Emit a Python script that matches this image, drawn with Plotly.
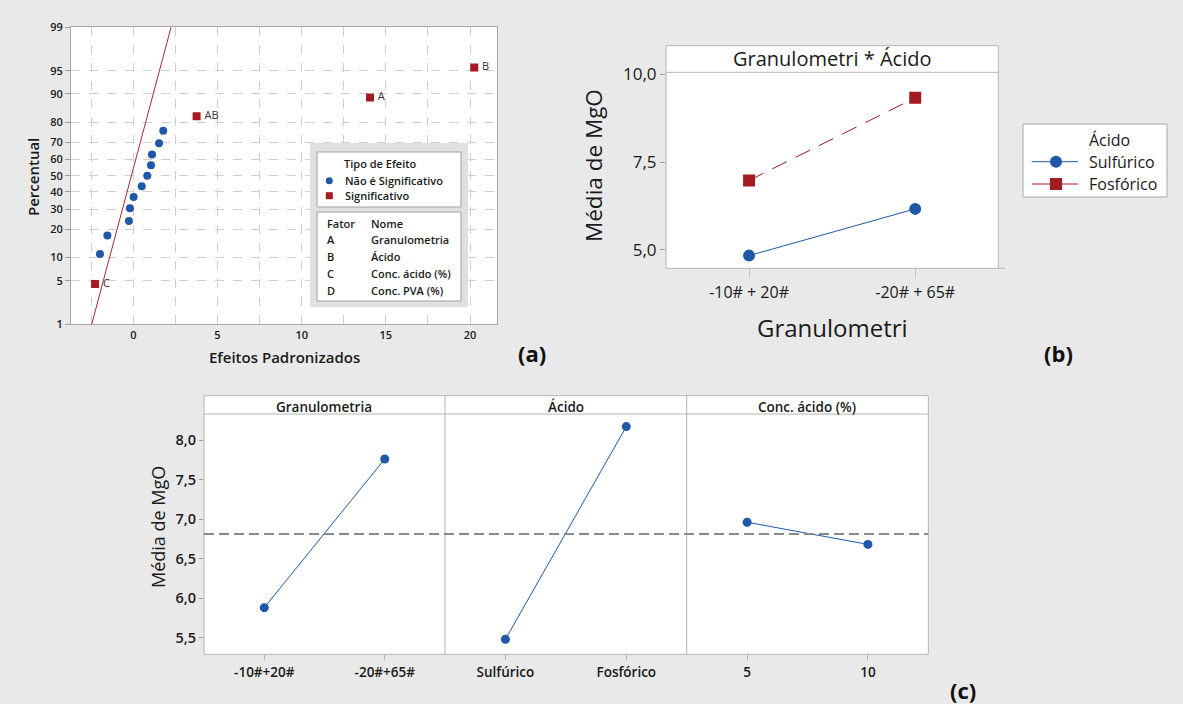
import plotly.graph_objects as go
from statistics import NormalDist

W, H = 1183, 704
FONT = "Open Sans"
INK = "#1a1a1a"
BLUE = "#1f58a8"
RED = "#a31a20"
FRAME = "#b4b4b4"
PAPER = "#e9e9e9"


def fx(p):
    return p / W


def fy(p):
    return 1 - p / H


def probit(pct):
    return NormalDist().inv_cdf(pct / 100.0)


# ---------------- (a) normal plot of standardized effects ----------------
effect_x = [-2.27, -1.98, -1.54, -0.26, -0.20, 0.02, 0.50, 0.83, 1.05, 1.11, 1.53, 1.78, 3.76, 14.06, 20.25]
effect_pct = [4.5, 11.0, 17.5, 24.0, 30.5, 37.0, 43.5, 50.0, 56.5, 63.0, 69.5, 76.0, 82.5, 89.0, 95.5]
effect_tag = ["C", "", "", "", "", "", "", "", "", "", "", "", "AB", "A", "B"]
significant = [True] + [False] * 11 + [True, True, True]
fit_x = [-2.47, 2.24]
fit_pct = [1, 99]
pct_ticks = [1, 5, 10, 20, 30, 40, 50, 60, 70, 80, 90, 95, 99]
x_ticks_a = [-2.5, 0, 2.5, 5, 7.5, 10, 12.5, 15, 17.5, 20]
factor_codes = ["A", "B", "C", "D"]
factor_names = ["Granulometria", "Ácido", "Conc. ácido (%)", "Conc. PVA (%)"]

# ---------------- (b) interaction plot ----------------
gran_levels_b = ["-10# + 20#", "-20# + 65#"]
mean_sulf = [4.84, 6.17]
mean_fosf = [6.98, 9.33]
y_ticks_b = [5.0, 7.5, 10.0]

# ---------------- (c) main effects plot ----------------
gran_levels = ["-10#+20#", "-20#+65#"]
mean_gran = [5.88, 7.76]
acid_levels = ["Sulfúrico", "Fosfórico"]
mean_acid = [5.48, 8.17]
conc_levels = ["5", "10"]
mean_conc = [6.96, 6.68]
grand_mean = 6.81
y_ticks_c = [5.5, 6.0, 6.5, 7.0, 7.5, 8.0]

fig = go.Figure()

# (a) traces
nx = [x for x, s in zip(effect_x, significant) if not s]
ny = [probit(p) for p, s in zip(effect_pct, significant) if not s]
sx = [x for x, s in zip(effect_x, significant) if s]
sy = [probit(p) for p, s in zip(effect_pct, significant) if s]
st = [t for t, s in zip(effect_tag, significant) if s]

fig.add_trace(go.Scatter(x=fit_x, y=[probit(p) for p in fit_pct], mode="lines",
                         line=dict(color="#a52a2a", width=1), xaxis="x", yaxis="y",
                         showlegend=False, hoverinfo="skip"))
fig.add_trace(go.Scatter(x=nx, y=ny, mode="markers", xaxis="x", yaxis="y",
                         marker=dict(symbol="circle", size=8, color=BLUE),
                         showlegend=False))
fig.add_trace(go.Scatter(x=sx, y=sy, mode="markers+text", text=["\u2009" + t for t in st],
                         textposition="middle right",
                         textfont=dict(family=FONT, size=11, color="#333"),
                         xaxis="x", yaxis="y",
                         marker=dict(symbol="square", size=8, color=RED),
                         showlegend=False))

# (b) traces
fig.add_trace(go.Scatter(x=gran_levels_b, y=mean_sulf, mode="lines+markers", xaxis="x2", yaxis="y2",
                         line=dict(color=BLUE, width=1),
                         marker=dict(symbol="circle", size=12, color=BLUE), showlegend=False))
fig.add_trace(go.Scatter(x=gran_levels_b, y=mean_fosf, mode="lines+markers", xaxis="x2", yaxis="y2",
                         line=dict(color=RED, width=1, dash="16px,10px"),
                         marker=dict(symbol="square", size=12, color=RED), showlegend=False))

# (c) traces
for xa, cats, vals in (("x3", gran_levels, mean_gran),
                       ("x4", acid_levels, mean_acid),
                       ("x5", conc_levels, mean_conc)):
    fig.add_trace(go.Scatter(x=cats, y=vals, mode="lines+markers", xaxis=xa, yaxis="y3",
                             line=dict(color=BLUE, width=1),
                             marker=dict(symbol="circle", size=9, color=BLUE), showlegend=False))

grid_kw = dict(showgrid=True, gridcolor="#cfcfcf", griddash="dash", gridwidth=1, zeroline=False)
SEMI = dict(family=FONT, color=INK, weight=600)

layout = dict(
    width=W, height=H, margin=dict(l=0, r=0, t=0, b=0, autoexpand=False),
    paper_bgcolor=PAPER, plot_bgcolor="white", separators=",.",
    font=dict(family=FONT, color=INK),
    xaxis=dict(domain=[fx(71), fx(497)], range=[-3.70, 21.60], anchor="y", automargin=False,
               tickvals=x_ticks_a,
               ticktext=["" if v % 5 else f"{v:g}" for v in x_ticks_a],
               showline=True, linecolor="#a8a8a8", mirror=True, ticks="",
               tickfont=dict(size=11, **SEMI), **grid_kw),
    yaxis=dict(domain=[fy(324.3), fy(27.3)], range=[probit(1), probit(99)], anchor="x",
               automargin=False,
               tickvals=[probit(p) for p in pct_ticks], ticktext=[str(p) for p in pct_ticks],
               showline=True, linecolor="#a8a8a8", mirror=True,
               ticks="outside", ticklen=5, tickcolor="#9a9a9a",
               tickfont=dict(size=11, **SEMI), **grid_kw),
    xaxis2=dict(domain=[fx(666), fx(998.3)], anchor="y2", type="category", range=[-0.5, 1.5],
                automargin=False,
                showgrid=False, zeroline=False, showline=False,
                ticks="outside", ticklen=9, tickcolor="#c4c4c4",
                tickfont=dict(size=16, color=INK)),
    yaxis2=dict(domain=[fy(268.3), fy(72.3)], anchor="x2", range=[4.479, 10.057],
                automargin=False,
                tickvals=y_ticks_b, tickformat=".1f", showgrid=False, zeroline=False,
                showline=False, ticks="outside", ticklen=5, tickcolor="#9a9a9a",
                tickfont=dict(size=17, color=INK)),
    yaxis3=dict(domain=[fy(654.3), fy(414)], anchor="x3", range=[5.290, 8.329],
                automargin=False,
                tickvals=y_ticks_c, tickformat=".1f", showgrid=False, zeroline=False,
                showline=False, ticks="outside", ticklen=4, tickcolor="#9a9a9a",
                tickfont=dict(size=14.5, **SEMI)),
)
for name, dom in (("xaxis3", (204, 445)), ("xaxis4", (445, 686.7)), ("xaxis5", (686.7, 928.3))):
    layout[name] = dict(domain=[fx(dom[0]), fx(dom[1])], anchor="y3", type="category",
                        range=[-0.5, 1.5], showgrid=False, zeroline=False, showline=False,
                        automargin=False,
                        ticks="outside", ticklen=5, tickcolor="#b0b0b0",
                        tickfont=dict(size=13.5, **SEMI))
fig.update_layout(**layout)

shapes = []
ann = []


def rect(x0, y0, x1, y1, fill=None, line=FRAME, width=1, layer="above"):
    shapes.append(dict(type="rect", xref="paper", yref="paper",
                       x0=fx(x0), x1=fx(x1), y0=fy(y1), y1=fy(y0),
                       fillcolor=fill if fill else "rgba(0,0,0,0)",
                       line=dict(color=line, width=width) if line else dict(width=0),
                       layer=layer))


def hline(x0, x1, y, color=FRAME, width=1, dash="solid"):
    shapes.append(dict(type="line", xref="paper", yref="paper", x0=fx(x0), x1=fx(x1),
                       y0=fy(y), y1=fy(y), line=dict(color=color, width=width, dash=dash)))


def vline(x, y0, y1, color=FRAME, width=1):
    shapes.append(dict(type="line", xref="paper", yref="paper", x0=fx(x), x1=fx(x),
                       y0=fy(y0), y1=fy(y1), line=dict(color=color, width=width)))


def text(x, y, s, size, anchor="center", angle=0, weight=400, color=INK):
    ann.append(dict(xref="paper", yref="paper", x=fx(x), y=fy(y), text=s,
                    showarrow=False, xanchor=anchor, yanchor="middle", textangle=angle,
                    font=dict(family=FONT, size=size, color=color, weight=weight)))


# (a) legend block
rect(310, 143, 468, 307, fill="#e0e0e0", line=None)
rect(317, 152, 461, 207, fill="white", line="#a0a0a0")
rect(317, 212, 461, 301, fill="white", line="#a0a0a0")
text(341.5, 164, "Tipo de Efeito", 11, anchor="left", weight=600)
shapes.append(dict(type="circle", xref="paper", yref="paper", x0=fx(325.8), x1=fx(332.8),
                   y0=fy(184.2), y1=fy(177.2), fillcolor=BLUE, line=dict(width=0)))
shapes.append(dict(type="rect", xref="paper", yref="paper", x0=fx(325.8), x1=fx(332.8),
                   y0=fy(199.2), y1=fy(192.2), fillcolor=RED, line=dict(width=0)))
text(342.5, 180.7, "Não é Significativo", 11, anchor="left", weight=600)
text(342.5, 195.7, "Significativo", 11, anchor="left", weight=600)
text(325, 223.3, "Fator", 11, anchor="left", weight=600)
text(369, 223.3, "Nome", 11, anchor="left", weight=600)
for i, (c, n) in enumerate(zip(factor_codes, factor_names)):
    yy = 240 + i * 16.7
    text(325, yy, c, 11, anchor="left", weight=600)
    text(369, yy, n, 11, anchor="left", weight=600)

text(33, 177, "Percentual", 15, angle=-90, weight=600)
text(284, 357, "Efeitos Padronizados", 15, weight=600)
text(531.5, 353, "(a)", 22, weight=700, color="#111")

# (b) frame, strip and legend
rect(666, 45.7, 998.3, 72.3, fill="white", line=None, layer="below")
rect(666, 45.7, 998.3, 268.3, line=FRAME)
hline(666, 998.3, 72.3)
hline(998.3, 1005, 268.3)
text(832, 59, "Granulometri * Ácido", 20)
text(593, 166, "Média de MgO", 22.5, angle=-90)
text(832, 328, "Granulometri", 24)
text(1058, 353, "(b)", 22, weight=700, color="#111")

rect(1023, 124, 1167, 197, fill="white", line="#aaaaaa")
text(1087, 140, "Ácido", 16, anchor="left")
text(1087, 161.7, "Sulfúrico", 16, anchor="left")
text(1087, 184, "Fosfórico", 16, anchor="left")
hline(1031.7, 1078, 161.7, color=BLUE, width=1)
hline(1031.7, 1078, 184, color=RED, width=1)
shapes.append(dict(type="circle", xref="paper", yref="paper", x0=fx(1050), x1=fx(1062),
                   y0=fy(167.7), y1=fy(155.7), fillcolor=BLUE, line=dict(width=0)))
shapes.append(dict(type="rect", xref="paper", yref="paper", x0=fx(1050), x1=fx(1062),
                   y0=fy(190), y1=fy(178), fillcolor=RED, line=dict(width=0)))

# (c) frame, strips, panel dividers and overall mean
rect(204, 395.7, 928.3, 414, fill="white", line=None, layer="below")
rect(204, 395.7, 928.3, 654.3, line=FRAME)
hline(204, 928.3, 414)
vline(445, 395.7, 654.3)
vline(686.7, 395.7, 654.3)
shapes.append(dict(type="line", xref="paper", yref="y3", x0=fx(204), x1=fx(928.3),
                   y0=grand_mean, y1=grand_mean,
                   line=dict(color="#8a8a8a", width=2, dash="10px,5px")))
text(324.5, 406.5, "Granulometria", 13.5, weight=600)
text(565.8, 406.5, "Ácido", 13.5, weight=600)
text(807.5, 406.5, "Conc. ácido (%)", 13.5, weight=600)
text(158, 527, "Média de MgO", 18, angle=-90)
text(963, 690, "(c)", 22, weight=700, color="#111")

fig.update_layout(shapes=shapes, annotations=ann)
fig.write_html("out.html")
